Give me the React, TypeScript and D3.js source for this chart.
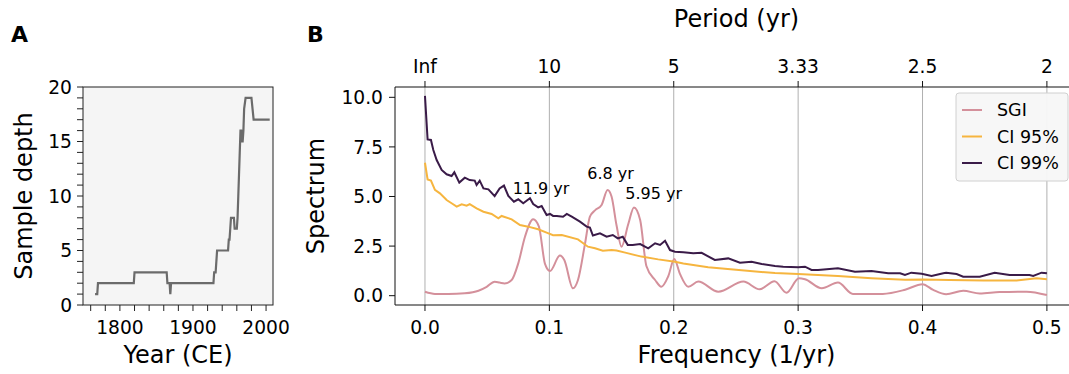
import React from "react";
import * as d3 from "d3";

// ---------- Panel A data: sample depth ----------
const depthYears = [1766, 1769, 1770, 1819, 1820, 1864, 1865, 1868, 1869, 1870, 1928, 1929, 1931, 1932, 1933, 1948, 1949, 1950, 1951, 1952, 1956, 1957, 1960, 1961, 1962, 1963, 1964, 1965, 1966, 1967, 1968, 1969, 1970, 1972, 1980, 1983, 2005];
const depthValues = [1, 1, 2, 2, 3, 3, 2, 2, 1, 2, 2, 3, 3, 4, 5, 5, 6, 6, 7, 8, 8, 7, 7, 8, 10, 12, 14, 16, 16, 15, 15, 16, 18, 19, 19, 17, 17];
const yearTicks = [1800, 1900, 2000];
const yearMinorTicks = [1760, 1780, 1800, 1820, 1840, 1860, 1880, 1900, 1920, 1940, 1960, 1980, 2000];
const depthTicks = [0, 5, 10, 15, 20];

// ---------- Panel B data: spectra ----------
const sgiFreq = [0, 0.008, 0.0188, 0.032, 0.043, 0.0496, 0.056, 0.060, 0.064, 0.0697, 0.075, 0.0804, 0.087, 0.0916, 0.0965, 0.1005, 0.1085, 0.112, 0.119, 0.123, 0.1286, 0.1326, 0.1367, 0.142, 0.1468, 0.150, 0.154, 0.158, 0.1634, 0.168, 0.173, 0.178, 0.185, 0.190, 0.1956, 0.2004, 0.205, 0.2117, 0.2197, 0.2358, 0.256, 0.269, 0.281, 0.2907, 0.3006, 0.3055, 0.319, 0.332, 0.344, 0.368, 0.386, 0.400, 0.4086, 0.419, 0.4327, 0.446, 0.462, 0.4837, 0.5];
const sgiPower = [0.2, 0.09, 0.08, 0.12, 0.25, 0.45, 0.7, 0.66, 0.62, 0.79, 1.63, 2.97, 3.85, 3.48, 1.6, 1.24, 2.02, 1.8, 0.37, 0.79, 2.6, 3.98, 4.3, 4.57, 5.33, 5.0, 3.55, 2.47, 3.6, 4.45, 3.82, 1.5, 0.79, 0.45, 0.98, 1.85, 1.1, 0.45, 0.71, 0.2, 0.71, 0.32, 0.73, 0.15, 0.88, 0.83, 0.37, 0.66, 0.09, 0.09, 0.3, 0.58, 0.29, 0.07, 0.25, 0.11, 0.18, 0.2, 0.03];

const ci95Freq = [0, 0.0021, 0.0048, 0.008, 0.012, 0.0174, 0.0214, 0.0255, 0.0295, 0.0335, 0.036, 0.0415, 0.047, 0.0536, 0.059, 0.0616, 0.0697, 0.0764, 0.083, 0.091, 0.0978, 0.103, 0.11, 0.123, 0.131, 0.1367, 0.143, 0.150, 0.154, 0.161, 0.174, 0.1875, 0.201, 0.2077, 0.221, 0.2277, 0.2546, 0.2814, 0.300, 0.332, 0.359, 0.386, 0.400, 0.422, 0.449, 0.4756, 0.4917, 0.5];
const ci95Power = [6.7, 5.86, 5.8, 5.33, 5.16, 4.82, 4.66, 4.49, 4.61, 4.54, 4.62, 4.4, 4.23, 4.12, 3.9, 4.02, 3.85, 3.56, 3.48, 3.35, 3.18, 3.05, 3.06, 2.84, 2.47, 2.39, 2.27, 2.3, 2.28, 2.17, 1.97, 1.83, 1.71, 1.62, 1.5, 1.43, 1.28, 1.14, 1.09, 0.99, 0.88, 0.8, 0.82, 0.79, 0.76, 0.76, 0.88, 0.83];

const ci99Freq = [0, 0.0021, 0.0048, 0.0067, 0.0094, 0.0134, 0.0174, 0.0214, 0.0236, 0.0276, 0.032, 0.036, 0.040, 0.0415, 0.044, 0.047, 0.051, 0.056, 0.060, 0.0635, 0.067, 0.0715, 0.075, 0.079, 0.0844, 0.087, 0.091, 0.0938, 0.0978, 0.1005, 0.103, 0.106, 0.111, 0.114, 0.118, 0.1246, 0.13, 0.1326, 0.135, 0.1407, 0.146, 0.151, 0.155, 0.159, 0.163, 0.167, 0.173, 0.1795, 0.185, 0.189, 0.193, 0.197, 0.201, 0.2077, 0.2157, 0.2224, 0.233, 0.2438, 0.2532, 0.2626, 0.2707, 0.2814, 0.288, 0.300, 0.3055, 0.3108, 0.316, 0.332, 0.3457, 0.359, 0.3724, 0.382, 0.3859, 0.391, 0.3993, 0.4073, 0.4167, 0.419, 0.4274, 0.4327, 0.446, 0.458, 0.47, 0.4756, 0.486, 0.489, 0.4957, 0.5];
const ci99Power = [10.07, 7.88, 7.85, 7.34, 6.84, 6.34, 6.12, 6.03, 6.22, 5.7, 5.95, 5.83, 5.8, 5.58, 5.8, 5.41, 5.36, 5.02, 5.41, 5.55, 5.03, 4.74, 4.86, 4.66, 4.91, 4.62, 4.45, 4.52, 4.07, 4.12, 4.02, 4.02, 3.98, 4.12, 3.98, 3.73, 3.48, 3.43, 3.03, 3.14, 2.97, 3.06, 2.89, 2.97, 2.56, 2.56, 2.6, 2.39, 2.64, 2.56, 2.77, 2.3, 2.22, 2.19, 2.14, 2.16, 1.8, 1.88, 1.66, 1.71, 1.6, 1.5, 1.46, 1.43, 1.46, 1.3, 1.3, 1.38, 1.21, 1.24, 1.13, 1.13, 1.04, 1.16, 1.1, 0.99, 1.13, 1.16, 1.09, 0.96, 0.96, 1.16, 1.04, 1.04, 1.04, 0.99, 1.16, 1.13];

const freqTicks = [0, 0.1, 0.2, 0.3, 0.4, 0.5];
const periodLabels = ["Inf", "10", "5", "3.33", "2.5", "2"];
const spectrumTicks = [0, 2.5, 5, 7.5, 10];
const seriesNames = ["SGI", "CI 95%", "CI 99%"];
const seriesColors = ["#d4909b", "#f6b53f", "#3a1b48"];
const peakLabels = ["11.9 yr", "6.8 yr", "5.95 yr"];
const peakFreqs = [0.0705, 0.1305, 0.161];
const peakValues = [5.15, 5.9, 4.85];

const FONT = "'DejaVu Sans', sans-serif";

export default function App() {
  // Panel A geometry
  const aL = 83, aR = 273, aT = 87, aB = 305;
  const xA = d3.scaleLinear().domain([1749.5, 2009.5]).range([aL, aR]);
  const yA = d3.scaleLinear().domain([0, 20]).range([aB, aT]);
  const depthPts = depthYears.map((y, i) => [y, depthValues[i]] as [number, number]);
  const lineA = d3.line<[number, number]>().x(d => xA(d[0])).y(d => yA(d[1]));

  // Panel B geometry
  const bL = 395, bR = 1078, bT = 87, bB = 305;
  const xB = d3.scaleLinear().domain([-0.0241, 0.525]).range([bL, bR]);
  const yB = d3.scaleLinear().domain([-0.47, 10.52]).range([bB, bT]);
  const lineB = d3.line<[number, number]>().x(d => xB(d[0])).y(d => yB(d[1]));
  const smoothB = d3.line<[number, number]>().x(d => xB(d[0])).y(d => yB(d[1])).curve(d3.curveMonotoneX);
  const sgiPts = sgiFreq.map((f, i) => [f, sgiPower[i]] as [number, number]);
  const ci95Pts = ci95Freq.map((f, i) => [f, ci95Power[i]] as [number, number]);
  const ci99Pts = ci99Freq.map((f, i) => [f, ci99Power[i]] as [number, number]);

  const tickFont = 18.67;
  const labelFont = 24;

  return (
    <svg width={1069} height={374} style={{ position: "absolute", left: 0, top: 0, background: "#fff" }} fontFamily={FONT}>
      {/* Panel labels */}
      <text x={11} y={42} fontSize={22} fontWeight="bold">A</text>
      <text x={307} y={42} fontSize={22} fontWeight="bold">B</text>

      {/* ---------- Panel A ---------- */}
      <rect x={aL} y={aT} width={aR - aL} height={aB - aT} fill="#f5f5f5" />
      <path d={lineA(depthPts) || ""} fill="none" stroke="#6b6b6b" strokeWidth={2.2} />
      <rect x={aL} y={aT} width={aR - aL} height={aB - aT} fill="none" stroke="#222" strokeWidth={1} />
      {d3.range(0, 21).map(v => (
        <line key={"ayt" + v} x1={aL - 6} x2={aL} y1={yA(v)} y2={yA(v)} stroke="#222" strokeWidth={1} />
      ))}
      {depthTicks.map(v => (
        <text key={"ayl" + v} x={aL - 11} y={yA(v)} dy="0.36em" textAnchor="end" fontSize={tickFont}>{v}</text>
      ))}
      {yearMinorTicks.map(v => (
        <line key={"axt" + v} x1={xA(v)} x2={xA(v)} y1={aB} y2={aB + 6} stroke="#222" strokeWidth={1} />
      ))}
      {yearTicks.map(v => (
        <text key={"axl" + v} x={xA(v)} y={334} textAnchor="middle" fontSize={tickFont}>{v}</text>
      ))}
      <text x={(aL + aR) / 2} y={363} textAnchor="middle" fontSize={labelFont}>Year (CE)</text>
      <text transform={`translate(32,${(aT + aB) / 2}) rotate(-90)`} textAnchor="middle" fontSize={labelFont}>Sample depth</text>

      {/* ---------- Panel B ---------- */}
      <defs>
        <clipPath id="clipB">
          <rect x={bL} y={bT} width={bR - bL} height={bB - bT} />
        </clipPath>
      </defs>
      {freqTicks.map(f => (
        <line key={"grid" + f} x1={xB(f)} x2={xB(f)} y1={bT} y2={bB} stroke="#b0b0b0" strokeWidth={1} />
      ))}
      <g clipPath="url(#clipB)">
        <path d={smoothB(sgiPts) || ""} fill="none" stroke={seriesColors[0]} strokeWidth={2} />
        <path d={lineB(ci95Pts) || ""} fill="none" stroke={seriesColors[1]} strokeWidth={2} />
        <path d={lineB(ci99Pts) || ""} fill="none" stroke={seriesColors[2]} strokeWidth={2} />
      </g>
      {peakLabels.map((t, i) => (
        <text key={"pk" + i} x={xB(peakFreqs[i])} y={yB(peakValues[i])} fontSize={16}>{t}</text>
      ))}
      {/* spines */}
      <line x1={bL} x2={bL} y1={bT} y2={bB} stroke="#111" strokeWidth={1} />
      <line x1={bL} x2={bR} y1={bT} y2={bT} stroke="#111" strokeWidth={1} />
      <line x1={bL} x2={bR} y1={bB} y2={bB} stroke="#111" strokeWidth={1} />
      {spectrumTicks.map(v => (
        <g key={"byt" + v}>
          <line x1={bL - 6} x2={bL} y1={yB(v)} y2={yB(v)} stroke="#111" strokeWidth={1} />
          <text x={bL - 12} y={yB(v)} dy="0.36em" textAnchor="end" fontSize={tickFont}>{v.toFixed(1)}</text>
        </g>
      ))}
      {freqTicks.map(f => (
        <g key={"bxt" + f}>
          <line x1={xB(f)} x2={xB(f)} y1={bB} y2={bB + 6} stroke="#111" strokeWidth={1} />
          <text x={xB(f)} y={334} textAnchor="middle" fontSize={tickFont}>{f.toFixed(1)}</text>
          <line x1={xB(f)} x2={xB(f)} y1={bT - 6} y2={bT} stroke="#111" strokeWidth={1} />
        </g>
      ))}
      {periodLabels.map((p, i) => (
        <text key={"per" + i} x={xB(freqTicks[i])} y={73} textAnchor="middle" fontSize={tickFont}>{p}</text>
      ))}
      <text x={(bL + bR) / 2} y={363} textAnchor="middle" fontSize={labelFont}>Frequency (1/yr)</text>
      <text x={(bL + bR) / 2} y={27} textAnchor="middle" fontSize={labelFont}>Period (yr)</text>
      <text transform={`translate(324,${(bT + bB) / 2}) rotate(-90)`} textAnchor="middle" fontSize={labelFont}>Spectrum</text>

      {/* legend */}
      <rect x={956} y={93} width={112} height={88} rx={3} fill="#f7f7f7" fillOpacity={0.95} stroke="#d0d0d0" strokeWidth={1} />
      {seriesNames.map((n, i) => (
        <g key={"lg" + i}>
          <line x1={962} x2={982} y1={110 + i * 26.5} y2={110 + i * 26.5} stroke={seriesColors[i]} strokeWidth={2} />
          <text x={997} y={110 + i * 26.5} dy="0.36em" fontSize={17.5}>{n}</text>
        </g>
      ))}
    </svg>
  );
}
